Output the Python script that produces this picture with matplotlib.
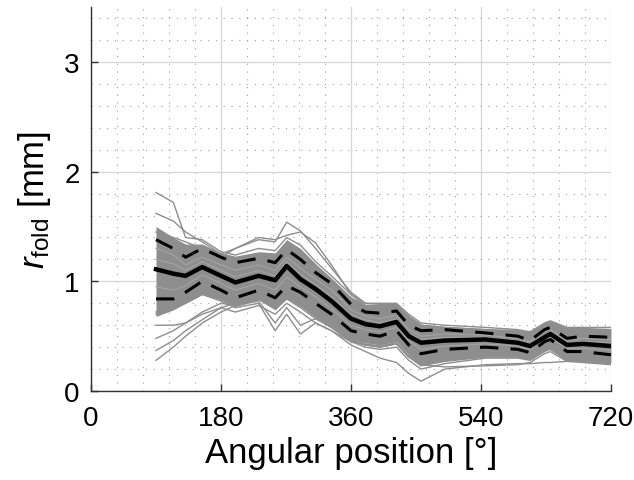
import matplotlib.pyplot as plt
from matplotlib.ticker import MultipleLocator

plt.rcParams['font.family'] = ['Liberation Sans', 'DejaVu Sans']
plt.rcParams['mathtext.fontset'] = 'custom'
plt.rcParams['mathtext.rm'] = 'Liberation Sans'
plt.rcParams['mathtext.it'] = 'Liberation Sans:italic'

# angular positions (deg) of the sampled points
angle = [90, 114, 131, 154, 180, 200, 232, 255, 271, 290, 311, 333, 360, 380,
         400, 423, 440, 457, 490, 546, 591, 608, 628, 636, 659, 681, 720]

mean_r = [1.11, 1.07, 1.05, 1.13, 1.05, 0.99, 1.05, 1.01, 1.14, 1.02, 0.93, 0.82, 0.66, 0.61,
          0.59, 0.63, 0.50, 0.44, 0.46, 0.47, 0.44, 0.41, 0.49, 0.52, 0.42, 0.43, 0.41]
upper_r = [1.38, 1.30, 1.22, 1.30, 1.22, 1.17, 1.21, 1.17, 1.29, 1.20, 1.08, 0.98, 0.79, 0.72,
           0.71, 0.73, 0.60, 0.55, 0.56, 0.53, 0.50, 0.46, 0.56, 0.58, 0.48, 0.50, 0.49]
lower_r = [0.84, 0.84, 0.90, 1.00, 0.92, 0.85, 0.92, 0.85, 0.96, 0.90, 0.80, 0.70, 0.55, 0.52,
           0.50, 0.55, 0.42, 0.34, 0.38, 0.40, 0.38, 0.35, 0.45, 0.47, 0.36, 0.36, 0.33]

# envelope of the dense bundle of individual curves
band_hi = [1.50, 1.40, 1.34, 1.34, 1.26, 1.23, 1.27, 1.26, 1.38, 1.30, 1.16, 1.03, 0.86, 0.79,
           0.79, 0.79, 0.69, 0.61, 0.59, 0.57, 0.55, 0.53, 0.61, 0.63, 0.57, 0.57, 0.57]
band_lo = [0.68, 0.74, 0.80, 0.88, 0.83, 0.77, 0.83, 0.74, 0.84, 0.77, 0.67, 0.59, 0.47, 0.44,
           0.42, 0.45, 0.33, 0.24, 0.28, 0.32, 0.32, 0.30, 0.38, 0.40, 0.30, 0.28, 0.26]

# individual curves that stand out of the bundle
outliers = [
    [1.81, 1.72, 1.40, 1.38, 1.27, 1.24, 1.30, 1.28, 1.40, 1.33, 1.18, 1.05, 0.88, 0.80,
     0.80, 0.80, 0.70, 0.62, 0.60, 0.58, 0.56, 0.54, 0.62, 0.64, 0.58, 0.58, 0.58],
    [1.62, 1.55, 1.45, 1.36, 1.25, 1.30, 1.38, 1.36, 1.54, 1.46, 1.30, 1.12, 0.90, 0.80,
     0.79, 0.79, 0.68, 0.60, 0.58, 0.56, 0.55, 0.53, 0.61, 0.63, 0.57, 0.57, 0.56],
    [1.45, 1.40, 1.36, 1.30, 1.22, 1.30, 1.40, 1.38, 1.42, 1.45, 1.35, 1.15, 0.88, 0.78,
     0.78, 0.78, 0.67, 0.58, 0.57, 0.55, 0.54, 0.52, 0.60, 0.62, 0.56, 0.56, 0.55],
    [0.28, 0.40, 0.50, 0.62, 0.72, 0.78, 0.84, 0.78, 0.86, 0.78, 0.68, 0.58, 0.45, 0.40,
     0.38, 0.40, 0.28, 0.20, 0.25, 0.30, 0.30, 0.28, 0.36, 0.38, 0.28, 0.27, 0.25],
    [0.37, 0.46, 0.55, 0.65, 0.76, 0.80, 0.86, 0.80, 0.88, 0.80, 0.70, 0.60, 0.47, 0.43,
     0.41, 0.43, 0.31, 0.23, 0.27, 0.31, 0.31, 0.29, 0.37, 0.39, 0.29, 0.27, 0.26],
    [0.48, 0.55, 0.62, 0.72, 0.80, 0.78, 0.84, 0.76, 0.84, 0.76, 0.66, 0.58, 0.46, 0.42,
     0.40, 0.43, 0.32, 0.24, 0.28, 0.32, 0.32, 0.30, 0.38, 0.40, 0.30, 0.28, 0.26],
    [0.60, 0.60, 0.62, 0.70, 0.76, 0.72, 0.78, 0.70, 0.80, 0.72, 0.62, 0.55, 0.45, 0.42,
     0.40, 0.43, 0.31, 0.24, 0.28, 0.31, 0.31, 0.29, 0.37, 0.39, 0.29, 0.27, 0.25],
    [0.72, 0.76, 0.80, 0.88, 0.82, 0.76, 0.80, 0.55, 0.70, 0.52, 0.62, 0.55, 0.42, 0.36,
     0.30, 0.26, 0.16, 0.09, 0.20, 0.24, 0.25, 0.25, 0.26, 0.26, 0.27, 0.28, 0.28],
    [0.70, 0.76, 0.82, 0.90, 0.84, 0.78, 0.82, 0.62, 0.76, 0.60, 0.66, 0.58, 0.46, 0.42,
     0.41, 0.44, 0.32, 0.24, 0.22, 0.23, 0.24, 0.26, 0.34, 0.36, 0.27, 0.26, 0.24],
]

# a few curves inside the bundle (for texture)
inner = [
    [1.30, 1.24, 1.15, 1.22, 1.15, 1.10, 1.15, 1.10, 1.22, 1.12, 1.02, 0.92, 0.74, 0.68,
     0.66, 0.69, 0.56, 0.50, 0.52, 0.51, 0.48, 0.45, 0.54, 0.56, 0.46, 0.48, 0.47],
    [0.95, 0.92, 0.96, 1.06, 0.98, 0.92, 0.98, 0.92, 1.04, 0.95, 0.86, 0.75, 0.60, 0.56,
     0.54, 0.58, 0.46, 0.38, 0.41, 0.43, 0.41, 0.38, 0.47, 0.49, 0.39, 0.39, 0.37],
    [1.20, 1.16, 1.10, 1.18, 1.10, 1.04, 1.10, 1.05, 1.18, 1.06, 0.97, 0.86, 0.70, 0.65,
     0.62, 0.66, 0.53, 0.47, 0.49, 0.49, 0.46, 0.43, 0.51, 0.54, 0.44, 0.45, 0.44],
]

gray = '#8e8e8e'

fig = plt.figure(figsize=(6.34, 4.81), dpi=100)
ax = fig.add_axes([0.1435, 0.185, 0.8202, 0.798])

ax.fill_between(angle, band_lo, band_hi, color=gray, lw=0, zorder=2)
for c in outliers:
    ax.plot(angle, c, color=gray, lw=1.0, zorder=2)
for c in inner:
    ax.plot(angle, c, color='#a4a4a4', lw=0.8, zorder=2)

ax.plot(angle, mean_r, color='black', lw=3.2, zorder=4)
ax.plot(angle, upper_r, color='black', lw=2.2, dashes=(6, 4), zorder=4)
ax.plot(angle, lower_r, color='black', lw=2.2, dashes=(6, 4), zorder=4)

ax.set_xlim(0, 720)
ax.set_ylim(0, 3.5)
ax.xaxis.set_major_locator(MultipleLocator(180))
ax.xaxis.set_minor_locator(MultipleLocator(36))
ax.yaxis.set_major_locator(MultipleLocator(1))
ax.yaxis.set_minor_locator(MultipleLocator(0.2))

ax.grid(which='major', color='#d6d6d6', lw=0.9, zorder=0)
ax.grid(which='minor', color='#a0a0a0', lw=0.8, ls=(0, (1, 6)), zorder=0)
ax.set_axisbelow(True)

for s in ['top', 'right']:
    ax.spines[s].set_visible(False)
for s in ['left', 'bottom']:
    ax.spines[s].set_color('#333333')
    ax.spines[s].set_linewidth(1.0)

ax.tick_params(which='major', direction='in', length=5, width=1, labelsize=20,
               colors='#333333', labelcolor='black')
ax.tick_params(axis='x', which='major', pad=10)
ax.tick_params(axis='y', which='major', pad=8)
ax.tick_params(which='minor', length=0)

ax.set_xlabel('Angular position [°]', fontsize=25, labelpad=4)
ax.set_ylabel(r'$r_{\rm fold}$ [mm]', fontsize=25, labelpad=8)

fig.savefig('out.png', dpi=100)
